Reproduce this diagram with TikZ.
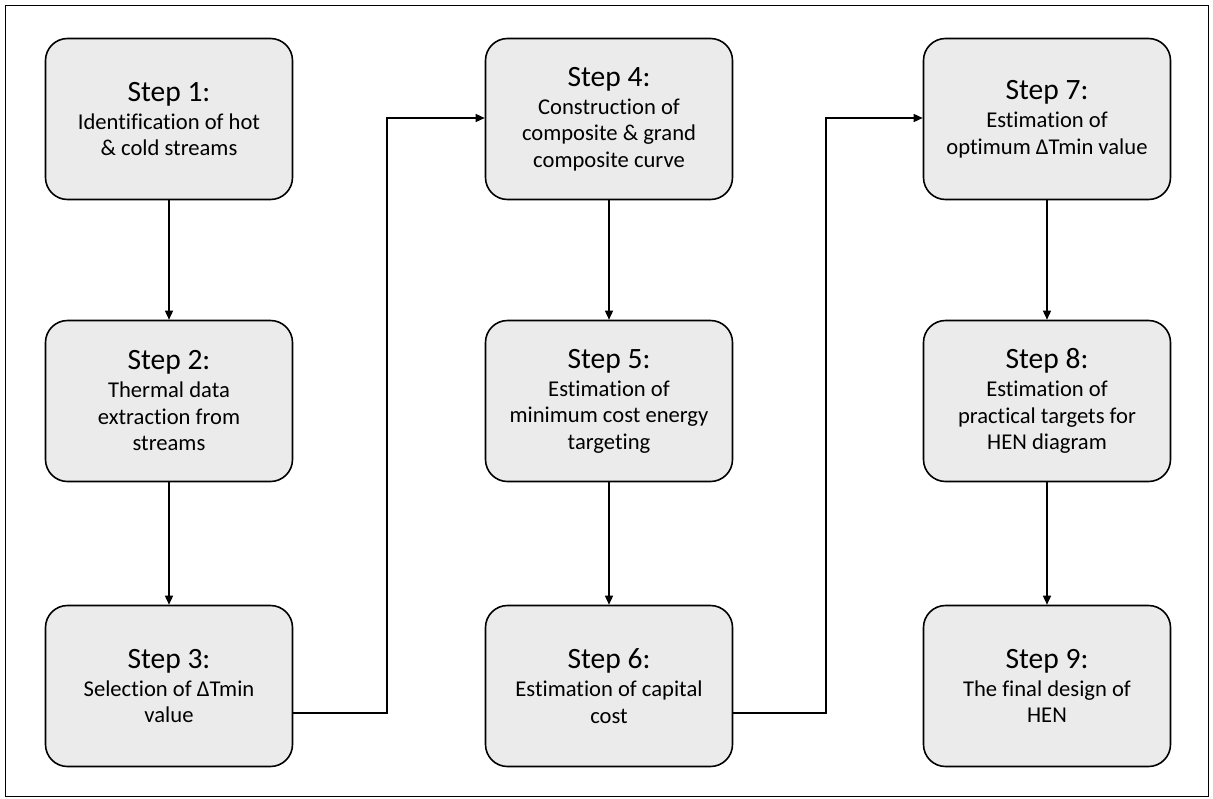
\documentclass[tikz,border=0pt]{standalone}
\usepackage{fontspec}
\setmainfont{Carlito}[Ligatures=NoCommon]
\usetikzlibrary{arrows.meta}
\begin{document}
\begin{tikzpicture}[x=1pt,y=-1pt,
  stepbox/.style={draw=black,line width=1.6pt,fill=gray!16,rounded corners=22pt,
    minimum width=247pt,minimum height=161pt,align=center,inner sep=0pt,
    font=\fontsize{22.6}{26.5}\selectfont},
  conn/.style={line width=1.4pt,-{Triangle[length=9pt,width=8pt]}}]
\useasboundingbox (0,0) rectangle (1213,798);
\draw[line width=1pt] (5,5) rectangle (1208,796);
\newcommand{\hd}[1]{{\fontsize{29.5}{30}\selectfont #1}\\[1.5pt]}
\node[stepbox] (s1) at (169,119) {\hd{Step 1:}Identification of hot\\ \& cold streams};
\node[stepbox] (s2) at (169,401) {\hd{Step 2:}Thermal data\\ extraction from\\ streams};
\node[stepbox] (s3) at (169,686) {\hd{Step 3:}Selection of ΔTmin\\ value};
\node[stepbox] (s4) at (609,119) {\hd{Step 4:}Construction of\\ composite \& grand\\ composite curve};
\node[stepbox] (s5) at (609,401) {\hd{Step 5:}Estimation of\\ minimum cost energy\\ targeting};
\node[stepbox] (s6) at (609,686) {\hd{Step 6:}Estimation of capital\\ cost};
\node[stepbox] (s7) at (1047,119) {\hd{Step 7:}Estimation of\\ optimum ΔTmin value};
\node[stepbox] (s8) at (1047,401) {\hd{Step 8:}Estimation of\\ practical targets for\\ HEN diagram};
\node[stepbox] (s9) at (1047,686) {\hd{Step 9:}The final design of\\ HEN};
\draw[conn] (s1) -- (s2);
\draw[conn] (s2) -- (s3);
\draw[conn] (s4) -- (s5);
\draw[conn] (s5) -- (s6);
\draw[conn] (s7) -- (s8);
\draw[conn] (s8) -- (s9);
\coordinate (a1) at (387,713);
\coordinate (a2) at (387,118);
\draw[conn] (s3.east |- a1) -- (a1) -- (a2) -- (s4.west |- a2);
\coordinate (b1) at (826,713);
\coordinate (b2) at (826,118);
\draw[conn] (s6.east |- b1) -- (b1) -- (b2) -- (s7.west |- b2);
\end{tikzpicture}
\end{document}
